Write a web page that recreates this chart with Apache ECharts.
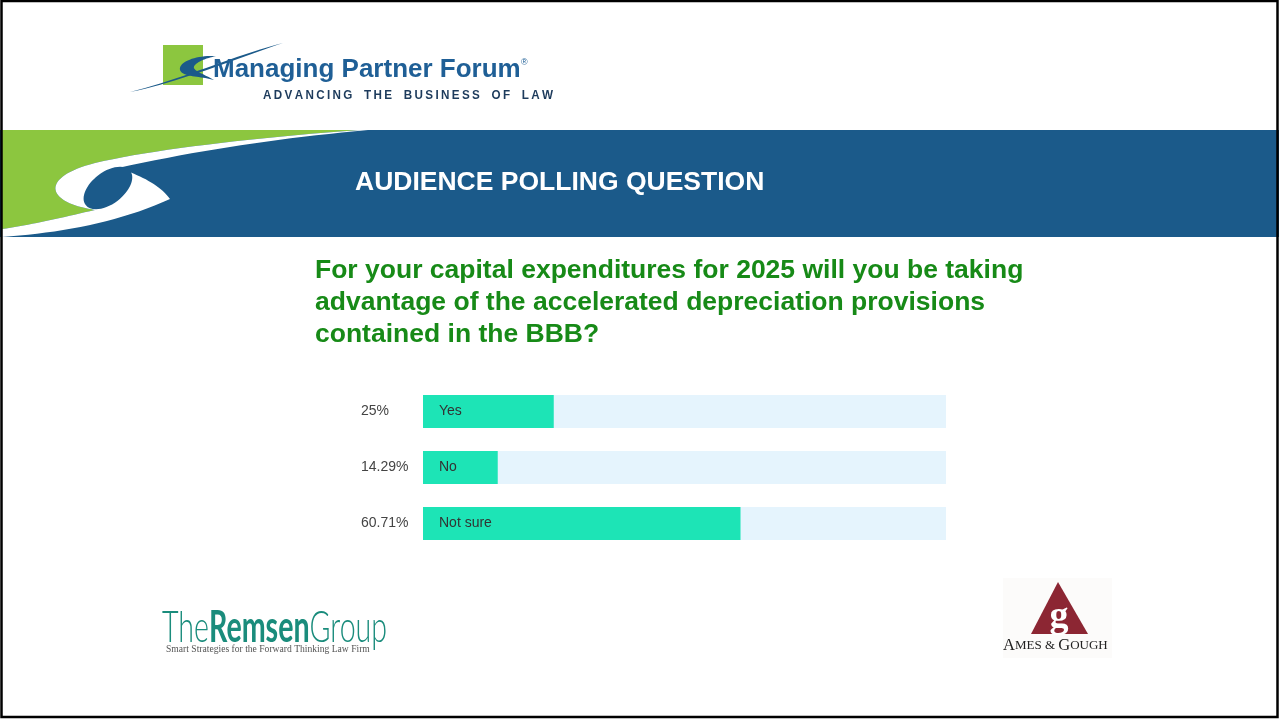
<!DOCTYPE html>
<html>
<head>
<meta charset="utf-8">
<script src="https://cdn.jsdelivr.net/npm/echarts@6/dist/echarts.min.js"></script>
<style>
html,body{margin:0;padding:0;background:#fff;}
#chart{width:1279px;height:719px;}
</style>
</head>
<body>
<div id="chart"></div>
<script>
// ---- Data ----
const categories = ['Yes', 'No', 'Not sure'];
const percents = [25, 14.29, 60.71];
const axisMin = 0;
const axisMax = 100;
const headerTitle = 'AUDIENCE POLLING QUESTION';
const questionLines = [
  'For your capital expenditures for 2025 will you be taking',
  'advantage of the accelerated depreciation provisions',
  'contained in the BBB?'
];

const chart = echarts.init(document.getElementById('chart'));
const SANS = '"Liberation Sans", Arial, sans-serif';
const SERIF = '"Liberation Serif", "Times New Roman", serif';
const BLUE = '#1b5a8a';
const GREEN = '#8cc63f';

// decorative outline helper: parse simple M/L/C/Z path into polygon points
function pathPoints(d) {
  const toks = d.replace(/([MLCZ])/g, ' $1 ').trim().split(/[\s,]+/);
  const pts = []; let i = 0; let cur = [0, 0];
  while (i < toks.length) {
    const c = toks[i++];
    if (c === 'M' || c === 'L') { cur = [+toks[i], +toks[i + 1]]; i += 2; pts.push(cur); }
    else if (c === 'C') {
      const p1 = [+toks[i], +toks[i + 1]], p2 = [+toks[i + 2], +toks[i + 3]], p3 = [+toks[i + 4], +toks[i + 5]]; i += 6;
      const p0 = cur;
      for (let k = 1; k <= 20; k++) {
        const t = k / 20, u = 1 - t;
        pts.push([
          u * u * u * p0[0] + 3 * u * u * t * p1[0] + 3 * u * t * t * p2[0] + t * t * t * p3[0],
          u * u * u * p0[1] + 3 * u * u * t * p1[1] + 3 * u * t * t * p2[1] + t * t * t * p3[1]
        ]);
      }
      cur = p3;
    }
  }
  return pts;
}

const swooshOuter = 'M2,130 L360,130 C250,138 150,150 95,163 C60,172 50,185 58,195 C66,205 85,208 95,210 C60,218 30,225 2,229 Z';

const graphics = [
  // Header band
  { type: 'rect', shape: { x: 0, y: 130, width: 1279, height: 107 }, style: { fill: BLUE } },
  { type: 'polygon', shape: { points: pathPoints(swooshOuter) }, style: { fill: GREEN } },
  { type: 'polygon', shape: { points: pathPoints('M360,130 C250,138 150,150 95,163 C60,172 50,185 58,195 C66,205 85,208 95,210 C60,218 30,225 2,229 L2,237 C60,233 120,222 170,199 C160,185 140,175 118,168 C200,150 280,138 368,130 Z') }, style: { fill: '#ffffff' } },
  { type: 'ellipse', x: 108, y: 188, rotation: 0.65, shape: { cx: 0, cy: 0, rx: 28, ry: 16 }, style: { fill: BLUE } },
  { type: 'text', x: 355, y: 183, style: { text: headerTitle, fill: '#ffffff', font: 'bold 26.5px ' + SANS, textVerticalAlign: 'middle' } },

  // Managing Partner Forum logo
  { type: 'rect', shape: { x: 163, y: 45, width: 40, height: 40 }, style: { fill: GREEN } },
  { type: 'polygon', shape: { points: pathPoints('M130,92 C180,80 232,56 283,43 C232,60 180,82 130,92 Z') }, style: { fill: BLUE } },
  { type: 'polygon', shape: { points: pathPoints('M216,56 C196,55 178,62 180,70 C182,77 200,76 214,80 C202,73 190,70 195,65 C200,60 208,58 216,56 Z') }, style: { fill: BLUE } },
  { type: 'text', x: 213, y: 70, style: { text: 'Managing Partner Forum', fill: '#1f5f96', font: 'bold 26px ' + SANS, textVerticalAlign: 'middle' } },
  { type: 'text', x: 521, y: 63, style: { text: '®', fill: '#1f5f96', font: '9px ' + SANS, textVerticalAlign: 'middle' } },
  { type: 'text', x: 263, y: 96, scaleX: 0.973, style: { text: 'A\u2009D\u2009V\u2009A\u2009N\u2009C\u2009I\u2009N\u2009G\u2003T\u2009H\u2009E\u2003B\u2009U\u2009S\u2009I\u2009N\u2009E\u2009S\u2009S\u2003O\u2009F\u2003L\u2009A\u2009W', fill: '#1d3b5c', font: 'bold 12px ' + SANS, textVerticalAlign: 'middle' } },

  // Question
  { type: 'text', x: 315, y: 271, style: { text: questionLines[0], fill: '#178a17', font: 'bold 26.5px ' + SANS, textVerticalAlign: 'middle' } },
  { type: 'text', x: 315, y: 303, style: { text: questionLines[1], fill: '#178a17', font: 'bold 26.5px ' + SANS, textVerticalAlign: 'middle' } },
  { type: 'text', x: 315, y: 335, style: { text: questionLines[2], fill: '#178a17', font: 'bold 26.5px ' + SANS, textVerticalAlign: 'middle' } },

  // The Remsen Group logo
  { type: 'text', x: 162, y: 628, scaleX: 0.65, style: {
      text: '{a|The}{b|Remsen}{a|Group}', textVerticalAlign: 'middle',
      rich: {
        a: { fontFamily: 'Lato, ' + SANS, fontWeight: 300, fontSize: 44, fill: '#1a8c7c' },
        b: { fontFamily: 'Lato, ' + SANS, fontWeight: 'bold', fontSize: 44, fill: '#1a8c7c' }
      } } },
  { type: 'text', x: 166, y: 649, style: { text: 'Smart Strategies for the Forward Thinking Law Firm', fill: '#555555', font: '9.6px ' + SERIF, textVerticalAlign: 'middle' } },

  // Ames & Gough logo
  { type: 'rect', shape: { x: 1003, y: 578, width: 109, height: 80 }, style: { fill: '#fcfbfa' } },
  { type: 'polygon', shape: { points: [[1058, 582], [1031, 634], [1088, 634]] }, style: { fill: '#8c2633' } },
  { type: 'text', x: 1059, y: 617, style: { text: 'g', fill: '#ffffff', font: 'bold 38px ' + SERIF, textAlign: 'center', textVerticalAlign: 'middle' } },
  { type: 'text', x: 1003, y: 646, style: {
      text: '{c|A}{s|MES & }{c|G}{s|OUGH}', textVerticalAlign: 'middle',
      rich: {
        c: { fontFamily: SERIF, fontSize: 16.5, fill: '#222' },
        s: { fontFamily: SERIF, fontSize: 13, fill: '#222' }
      } } },

  // Frame
  { type: 'rect', z: 100, shape: { x: 1.5, y: 1, width: 1276, height: 716 }, style: { fill: 'none', stroke: '#000', lineWidth: 2.5 } }
];

const option = {
  animation: false,
  grid: { left: 423, top: 383.5, width: 523, height: 168, containLabel: false },
  xAxis: { type: 'value', min: axisMin, max: axisMax, show: false },
  yAxis: {
    type: 'category', data: categories, inverse: true,
    axisLine: { show: false }, axisTick: { show: false }, splitLine: { show: false },
    axisLabel: {
      formatter: (v, i) => percents[i] + '%',
      align: 'left', margin: 62, color: '#444', fontSize: 14, fontFamily: SANS
    }
  },
  series: [{
    type: 'bar', data: percents, barWidth: 33,
    itemStyle: { color: '#1de4b6' },
    showBackground: true, backgroundStyle: { color: '#e5f4fd' },
    label: { show: true, position: 'insideLeft', distance: 16, formatter: '{b}', color: '#333', fontSize: 14, fontFamily: SANS }
  }],
  graphic: { elements: graphics }
};
chart.setOption(option);
</script>
</body>
</html>
